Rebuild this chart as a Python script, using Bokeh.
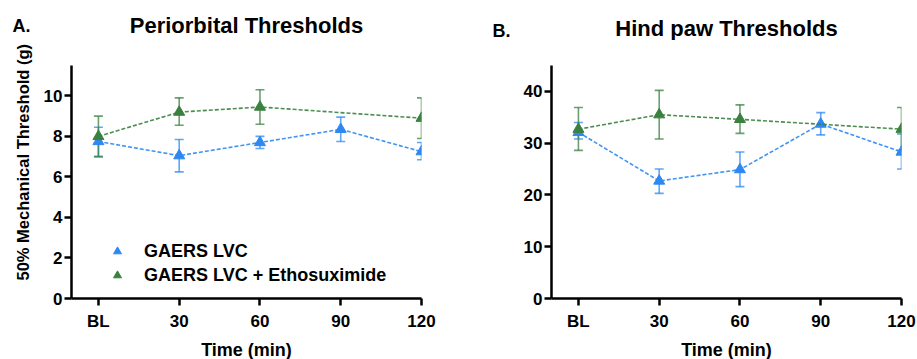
from bokeh.plotting import figure
from bokeh.layouts import row, column
from bokeh.models import (ColumnDataSource, Whisker, Legend, LegendItem, FixedTicker,
                          Title)
from bokeh.core.properties import value
from bokeh.embed import file_html
from bokeh.resources import INLINE

times = [0, 30, 60, 90, 120]
time_labels = ["BL", "30", "60", "90", "120"]

# Panel A: Periorbital thresholds
a_lvc = [7.75, 7.05, 7.7, 8.35, 7.25]
a_lvc_hi = [8.45, 7.85, 8.0, 8.95, 7.7]
a_lvc_lo = [7.0, 6.25, 7.4, 7.75, 6.85]
a_eth_t = [0, 30, 60, 120]
a_eth = [8.0, 9.2, 9.45, 8.9]
a_eth_hi = [9.0, 9.9, 10.3, 9.9]
a_eth_lo = [7.0, 8.55, 8.6, 7.9]

# Panel B: Hind paw thresholds
b_lvc = [32.1, 22.7, 24.9, 33.7, 28.3]
b_lvc_hi = [34.0, 25.0, 28.3, 35.9, 31.8]
b_lvc_lo = [30.8, 20.3, 21.6, 31.6, 25.0]
b_eth_t = [0, 30, 60, 120]
b_eth = [32.7, 35.5, 34.6, 32.7]
b_eth_hi = [36.9, 40.2, 37.4, 36.9]
b_eth_lo = [28.6, 30.8, 31.9, 28.6]

titles = ["Periorbital Thresholds", "Hind paw Thresholds"]
letters = ["A.", "B."]
legend_labels = ["GAERS LVC", "GAERS LVC + Ethosuximide"]

BLUE = "#2e88f2"
GREEN = "#3a813f"
FONT = "Liberation Sans"

# ---- header strip holding panel letters and titles ----
header = figure(width=917, height=40, x_range=(0, 917), y_range=(40, 0),
                output_backend="svg", toolbar_location=None,
                x_axis_location=None, y_axis_location=None,
                min_border=0, min_border_left=0, min_border_right=0,
                min_border_top=0, min_border_bottom=0)
header.title.visible = False
header.outline_line_color = None
header.grid.visible = False
header.background_fill_color = None
header.border_fill_color = None
header.text(x=[246, 726], y=[25, 28], text=titles, text_align="center",
            text_baseline="middle", text_font=value(FONT), text_font_style="bold",
            text_font_size="22px", text_color="black")
header.text(x=[12, 492], y=[25, 30], text=letters, text_align="left",
            text_baseline="middle", text_font=value(FONT), text_font_style="bold",
            text_font_size="18px", text_color="black")


def make_panel(left, right, ymax, yticks, series, ylabel=None):
    p = figure(width=left + 350 + right, height=319,
               x_range=(-10, 120), y_range=(0, ymax),
               frame_width=350, frame_height=233,
               output_backend="svg", toolbar_location=None,
               min_border_left=left, min_border_right=right,
               min_border_top=25, min_border_bottom=61)
    p.title.visible = False
    p.outline_line_color = None
    p.grid.grid_line_color = None
    p.background_fill_color = None
    p.border_fill_color = None
    for ax in (p.xaxis[0], p.yaxis[0]):
        ax.axis_line_width = 2.5
        ax.major_tick_line_width = 2.5
        ax.major_tick_out = 7
        ax.major_tick_in = 0
        ax.minor_tick_line_color = None
        ax.major_label_text_font = FONT
        ax.major_label_text_font_style = "bold"
        ax.major_label_text_font_size = "17px"
        ax.major_label_text_color = "black"
        ax.axis_label_text_font = FONT
        ax.axis_label_text_font_style = "bold"
        ax.axis_label_text_font_size = "18px"
        ax.axis_label_text_color = "black"
    p.xaxis.ticker = FixedTicker(ticks=times)
    p.xaxis.major_label_overrides = {t: l for t, l in zip(times, time_labels)}
    p.xaxis.axis_label = "Time (min)"
    p.xaxis.major_label_standoff = 6
    p.xaxis.axis_label_standoff = 6
    p.yaxis.ticker = FixedTicker(ticks=yticks)
    p.yaxis.major_label_standoff = 2
    if ylabel:
        p.add_layout(Title(text=ylabel, align="left", offset=18, standoff=18,
                           text_font=FONT, text_font_style="bold",
                           text_font_size="16.5px", text_color="black"), "left")

    renderers = []
    for (t, y, hi, lo, color) in series:
        src = ColumnDataSource(dict(t=t, y=y, hi=hi, lo=lo))
        w = Whisker(base="t", upper="hi", lower="lo", source=src,
                    line_color=color, line_width=1.6, line_alpha=0.75)
        for h in (w.upper_head, w.lower_head):
            h.size = 9
            h.line_color = color
            h.line_width = 1.6
            h.line_alpha = 0.75
        p.add_layout(w)
        p.line("t", "y", source=src, line_color=color, line_width=1.6,
               line_dash="4 2", line_alpha=0.9)
        r = p.scatter("t", "y", source=src, marker="triangle", size=11,
                      fill_color=color, line_color=color)
        renderers.append(r)
    return p, renderers


pA, rA = make_panel(71, 39, 11.5, [0, 2, 4, 6, 8, 10],
                    [(times, a_lvc, a_lvc_hi, a_lvc_lo, BLUE),
                     (a_eth_t, a_eth, a_eth_hi, a_eth_lo, GREEN)],
                    ylabel="50% Mechanical Threshold (g)")

legend = Legend(items=[LegendItem(label=legend_labels[0], renderers=[rA[0]]),
                       LegendItem(label=legend_labels[1], renderers=[rA[1]])],
                location=(36, 12), orientation="vertical",
                glyph_width=20, glyph_height=22, label_height=22,
                label_standoff=17, spacing=2, padding=0, margin=0,
                border_line_color=None, background_fill_alpha=0,
                label_text_font=FONT, label_text_font_style="bold",
                label_text_color="black", label_text_baseline="middle",
                label_text_font_size="18px")
pA.add_layout(legend, "center")

pB, rB = make_panel(91, 16, 45, [0, 10, 20, 30, 40],
                    [(times, b_lvc, b_lvc_hi, b_lvc_lo, BLUE),
                     (b_eth_t, b_eth, b_eth_hi, b_eth_lo, GREEN)])

layout = column(header, row(pA, pB, spacing=0), spacing=0)
open("out.html", "w").write(file_html(layout, INLINE))
